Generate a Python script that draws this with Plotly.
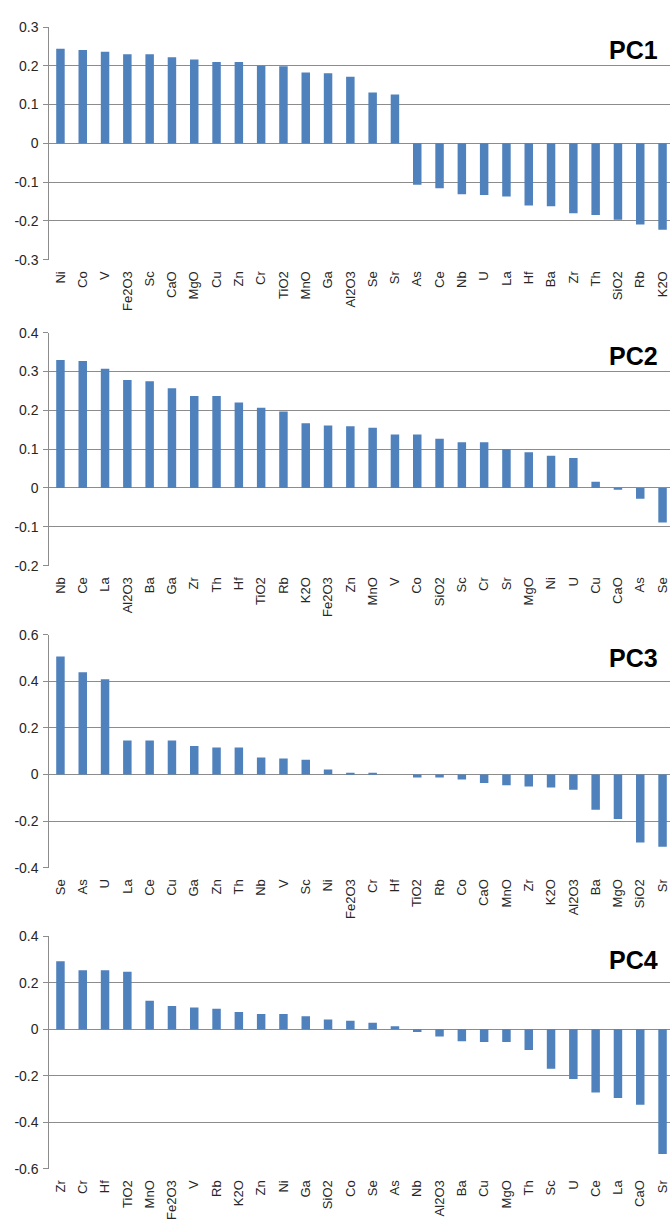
import plotly.graph_objects as go

# ---------------- data ----------------
pc1_labels = ["Ni", "Co", "V", "Fe2O3", "Sc", "CaO", "MgO", "Cu", "Zn", "Cr", "TiO2", "MnO", "Ga", "Al2O3",
              "Se", "Sr", "As", "Ce", "Nb", "U", "La", "Hf", "Ba", "Zr", "Th", "SiO2", "Rb", "K2O"]
pc1_values = [0.244, 0.241, 0.236, 0.230, 0.230, 0.222, 0.216, 0.210, 0.210, 0.200, 0.199, 0.183, 0.181, 0.172,
              0.131, 0.126, -0.107, -0.116, -0.131, -0.133, -0.137, -0.160, -0.162, -0.180, -0.185, -0.197,
              -0.209, -0.223]

pc2_labels = ["Nb", "Ce", "La", "Al2O3", "Ba", "Ga", "Zr", "Th", "Hf", "TiO2", "Rb", "K2O", "Fe2O3", "Zn",
              "MnO", "V", "Co", "SiO2", "Sc", "Cr", "Sr", "MgO", "Ni", "U", "Cu", "CaO", "As", "Se"]
pc2_values = [0.330, 0.327, 0.307, 0.278, 0.275, 0.257, 0.237, 0.237, 0.220, 0.207, 0.197, 0.167, 0.161, 0.159,
              0.155, 0.138, 0.138, 0.127, 0.118, 0.118, 0.100, 0.092, 0.083, 0.077, 0.016, -0.004, -0.028,
              -0.089]

pc3_labels = ["Se", "As", "U", "La", "Ce", "Cu", "Ga", "Zn", "Th", "Nb", "V", "Sc", "Ni", "Fe2O3", "Cr",
              "Hf", "TiO2", "Rb", "Co", "CaO", "MnO", "Zr", "K2O", "Al2O3", "Ba", "MgO", "SiO2", "Sr"]
pc3_values = [0.506, 0.439, 0.409, 0.146, 0.146, 0.146, 0.122, 0.116, 0.116, 0.073, 0.069, 0.063, 0.021,
              0.007, 0.007, 0.000, -0.013, -0.013, -0.022, -0.037, -0.046, -0.052, -0.056, -0.066, -0.151,
              -0.191, -0.292, -0.310]

pc4_labels = ["Zr", "Cr", "Hf", "TiO2", "MnO", "Fe2O3", "V", "Rb", "K2O", "Zn", "Ni", "Ga", "SiO2", "Co",
              "Se", "As", "Nb", "Al2O3", "Ba", "Cu", "MgO", "Th", "Sc", "U", "Ce", "La", "CaO", "Sr"]
pc4_values = [0.293, 0.254, 0.254, 0.248, 0.123, 0.100, 0.094, 0.089, 0.075, 0.066, 0.066, 0.056, 0.042,
              0.037, 0.028, 0.013, -0.011, -0.031, -0.051, -0.055, -0.055, -0.089, -0.170, -0.214, -0.272,
              -0.296, -0.325, -0.537]

titles = ["PC1", "PC2", "PC3", "PC4"]
y_ranges = [(-0.3, 0.3, 0.1), (-0.2, 0.4, 0.1), (-0.4, 0.6, 0.2), (-0.6, 0.4, 0.2)]

# ---------------- layout geometry ----------------
W, H = 670, 1227
panel_tops = [19.3, 329.0, 635.0, 940.7]
panel_bottoms = [255.0, 565.0, 871.0, 1176.0]
x_left = 49.3
cat_w = 22.3

BAR = "#4F81BD"
GRID = "#8C8C8C"
TXT = "#262626"
FONT = "Arial, Liberation Sans, sans-serif"

fig = go.Figure()
series = [(pc1_labels, pc1_values), (pc2_labels, pc2_values),
          (pc3_labels, pc3_values), (pc4_labels, pc4_values)]

layout = dict(
    width=W, height=H,
    margin=dict(l=0, r=0, t=0, b=0),
    paper_bgcolor="white", plot_bgcolor="white",
    showlegend=False, bargap=0.62,
    font=dict(family=FONT, color=TXT),
    annotations=[],
)

for i, ((labels, values), title, (ymin, ymax, dt)) in enumerate(zip(series, titles, y_ranges)):
    n = i + 1
    xa = "x" if n == 1 else f"x{n}"
    ya = "y" if n == 1 else f"y{n}"
    fig.add_trace(go.Bar(x=labels, y=values, xaxis=xa, yaxis=ya,
                         marker=dict(color=BAR, line=dict(width=0)), hoverinfo="x+y"))
    x_hi = (W - x_left) / cat_w - 0.5
    ydom = [1 - panel_bottoms[i] / H, 1 - panel_tops[i] / H]
    nt = int(round((ymax - ymin) / dt))
    tvals = [round(ymin + k * dt, 2) for k in range(nt + 1)]
    ttext = [f"{v:g}" for v in tvals]
    layout["xaxis" if n == 1 else f"xaxis{n}"] = dict(
        domain=[x_left / W, 1], anchor=ya, range=[-0.5, x_hi],
        type="category", tickangle=-90, showgrid=False, zeroline=False,
        showline=False, ticks="", ticklabelstandoff=8,
        tickfont=dict(family=FONT, size=13, color=TXT),
    )
    layout["yaxis" if n == 1 else f"yaxis{n}"] = dict(
        domain=ydom, anchor=xa, range=[ymin, ymax],
        tickvals=tvals, ticktext=ttext,
        showgrid=True, gridcolor=GRID, gridwidth=1,
        zeroline=True, zerolinecolor=GRID, zerolinewidth=1,
        showline=True, linecolor=GRID, linewidth=1,
        ticks="outside", ticklen=5, tickcolor=GRID, ticklabelstandoff=2,
        tickfont=dict(family=FONT, size=14, color=TXT),
    )
    layout["annotations"].append(dict(
        text=f"<b>{title}</b>", xref="paper", yref="paper",
        x=660 / W, y=1 - (panel_tops[i] + 23.5) / H,
        xanchor="right", yanchor="middle", showarrow=False,
        font=dict(family=FONT, size=25, color="black"),
    ))

fig.update_layout(**layout)
fig.write_html(
    "out.html",
    config={"displayModeBar": False},
    post_script="document.documentElement.style.overflow='hidden';"
                "document.body.style.margin='0';document.body.style.overflow='hidden';"
                "window.dispatchEvent(new Event('resize'));",
)
